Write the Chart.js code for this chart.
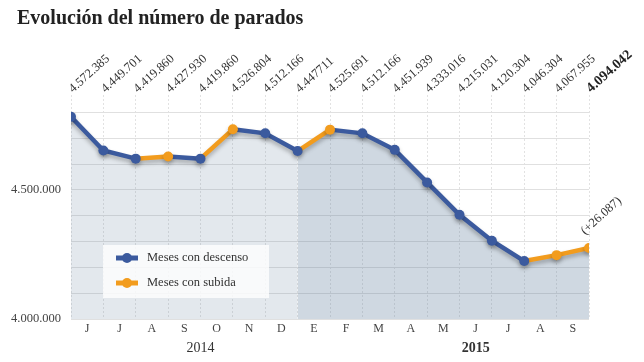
<!DOCTYPE html>
<html>
<head>
<meta charset="utf-8">
<script src="https://cdn.jsdelivr.net/npm/chart.js@4.4.0/dist/chart.umd.min.js"></script>
<style>
  body { margin: 0; background: #fff; }
  #wrap { position: relative; width: 644px; height: 362px; }
  h1 { position: absolute; left: 17px; top: 6px; margin: 0; font: bold 20px 'Liberation Serif', serif; color: #222; }
</style>
</head>
<body>
<div id="wrap">
  <h1>Evolución del número de parados</h1>
  <canvas id="chart" width="644" height="362"></canvas>
</div>
<script>
// months between the monthly figures (jun 2014 - sep 2015)
const months = ['J', 'J', 'A', 'S', 'O', 'N', 'D', 'E', 'F', 'M', 'A', 'M', 'J', 'J', 'A', 'S'];
const years = ['2014', '2015'];
// registered unemployment, end of each month (may 2014 - sep 2015)
const values = [4572385, 4449701, 4419860, 4427930, 4419860, 4526804, 4512166, 4447711,
  4525691, 4512166, 4451939, 4333016, 4215031, 4120304, 4046304, 4067955, 4094042];
const valueLabels = ['4.572.385', '4.449.701', '4.419.860', '4.427.930', '4.419.860', '4.526.804',
  '4.512.166', '4.447711', '4.525.691', '4.512.166', '4.451.939', '4.333.016', '4.215.031',
  '4.120.304', '4.046.304', '4.067.955', '4.094.042'];
const yTicks = [4000000, 4500000];
const yTickLabels = ['4.000.000', '4.500.000'];
const seriesNames = ['Meses con descenso', 'Meses con subida'];
const lastChange = '(+26.087)';

const BLUE = '#3b5a9e';
const ORANGE = '#f29c1e';
const SERIF = "'Liberation Serif', serif";
const FIRST_2015 = 7; // index of the dec 2014 figure, 2015 shading starts there
const ANGLE = -42 * Math.PI / 180;

const points = values.map((v, i) => ({ x: i, y: v }));
const pointColors = values.map((v, i) => (i === 0 || v < values[i - 1]) ? BLUE : ORANGE);

const shadow = {
  id: 'shadow',
  beforeDatasetDraw(chart, args) {
    if (args.index !== 1) return;
    const c = chart.ctx;
    c.save();
    c.shadowColor = 'rgba(0,0,0,0.28)';
    c.shadowBlur = 4;
    c.shadowOffsetY = 3;
  },
  afterDatasetDraw(chart, args) {
    if (args.index === 1) chart.ctx.restore();
  }
};

const extras = {
  id: 'extras',
  afterDraw(chart) {
    const { ctx, scales } = chart;
    const xs = scales.xData, ys = scales.yData;

    // rotated value labels on top
    valueLabels.forEach((t, i) => {
      const last = i === valueLabels.length - 1;
      ctx.save();
      ctx.translate(xs.getPixelForValue(i) + 2, 93);
      ctx.rotate(ANGLE);
      ctx.font = (last ? 'bold 14px ' : '12.5px ') + SERIF;
      ctx.fillStyle = last ? '#222' : '#333';
      ctx.textAlign = 'left';
      ctx.textBaseline = 'alphabetic';
      ctx.fillText(t, 0, 0);
      ctx.restore();
    });

    // change of the last month
    const n = values.length - 1;
    ctx.save();
    ctx.translate(xs.getPixelForValue(n) - 4, ys.getPixelForValue(values[n]) - 13);
    ctx.rotate(ANGLE);
    ctx.font = '12.5px ' + SERIF;
    ctx.fillStyle = '#333';
    ctx.fillText(lastChange, 0, 0);
    ctx.restore();

    // years under the months
    const yearPos = [4, 12.5];
    ctx.save();
    ctx.textAlign = 'center';
    ctx.textBaseline = 'middle';
    ctx.fillStyle = '#333';
    years.forEach((y, i) => {
      ctx.font = (i === 1 ? 'bold ' : '') + '14px ' + SERIF;
      ctx.fillText(y, xs.getPixelForValue(yearPos[i]), 348);
    });
    ctx.restore();

    // legend box
    const bx = 103, by = 245, bw = 166, bh = 53;
    ctx.save();
    ctx.fillStyle = 'rgba(255,255,255,0.8)';
    ctx.fillRect(bx, by, bw, bh);
    [BLUE, ORANGE].forEach((col, i) => {
      const ly = by + 13 + i * 25;
      ctx.strokeStyle = col;
      ctx.lineWidth = 5;
      ctx.beginPath();
      ctx.moveTo(bx + 13, ly);
      ctx.lineTo(bx + 35, ly);
      ctx.stroke();
      ctx.fillStyle = col;
      ctx.beginPath();
      ctx.arc(bx + 24, ly, 5, 0, Math.PI * 2);
      ctx.fill();
      ctx.fillStyle = '#333';
      ctx.font = '12.5px ' + SERIF;
      ctx.textBaseline = 'middle';
      ctx.fillText(seriesNames[i], bx + 44, ly);
    });
    ctx.restore();
  }
};

new Chart(document.getElementById('chart'), {
  type: 'line',
  data: {
    labels: months,
    datasets: [
      {
        data: points,
        xAxisID: 'xData',
        yAxisID: 'yData',
        order: 2,
        fill: 'start',
        borderWidth: 0,
        pointRadius: 0,
        backgroundColor: 'rgba(115,140,165,0.2)',
        segment: {
          backgroundColor: ctx => ctx.p0DataIndex >= FIRST_2015 ? 'rgba(95,125,155,0.3)' : 'rgba(115,140,165,0.2)'
        }
      },
      {
        data: points,
        xAxisID: 'xData',
        yAxisID: 'yData',
        order: 1,
        fill: false,
        tension: 0,
        borderWidth: 4.5,
        borderColor: BLUE,
        pointRadius: 5,
        pointBorderWidth: 0,
        pointBackgroundColor: pointColors,
        segment: {
          borderColor: ctx => ctx.p1.parsed.y < ctx.p0.parsed.y ? BLUE : ORANGE
        }
      }
    ]
  },
  options: {
    responsive: false,
    animation: false,
    layout: { padding: { left: 0, right: 55, top: 95, bottom: 0 } },
    plugins: { legend: { display: false }, tooltip: { enabled: false } },
    scales: {
      x: {
        type: 'category',
        offset: true,
        grid: { offset: true, color: '#e2e2e2', drawTicks: false },
        border: { display: false, dash: [2, 2] },
        ticks: { padding: 3, color: '#444', font: { family: SERIF, size: 12 } },
        afterFit: s => { s.height = 43; }
      },
      xData: { type: 'linear', min: 0, max: values.length - 1, display: false },
      y: {
        min: 4000000,
        max: 4868000,
        grid: { color: '#e0e0e0', drawTicks: false },
        border: { display: false },
        // gridlines every 100.000 from the bottom, as in the original
        afterBuildTicks: s => {
          const t = [];
          for (let v = 4000000; v <= s.max; v += 100000) t.push({ value: v });
          s.ticks = t;
        },
        ticks: {
          padding: 10,
          autoSkip: false,
          color: '#444',
          font: { family: SERIF, size: 12.5 },
          callback: v => {
            const k = yTicks.findIndex(t => Math.abs(t - v) < 1);
            return k >= 0 ? yTickLabels[k] : '';
          }
        },
        afterFit: s => { s.width = 71; }
      },
      yData: { type: 'linear', min: 3835000, max: 4652000, display: false }
    }
  },
  plugins: [shadow, extras]
});
</script>
</body>
</html>
